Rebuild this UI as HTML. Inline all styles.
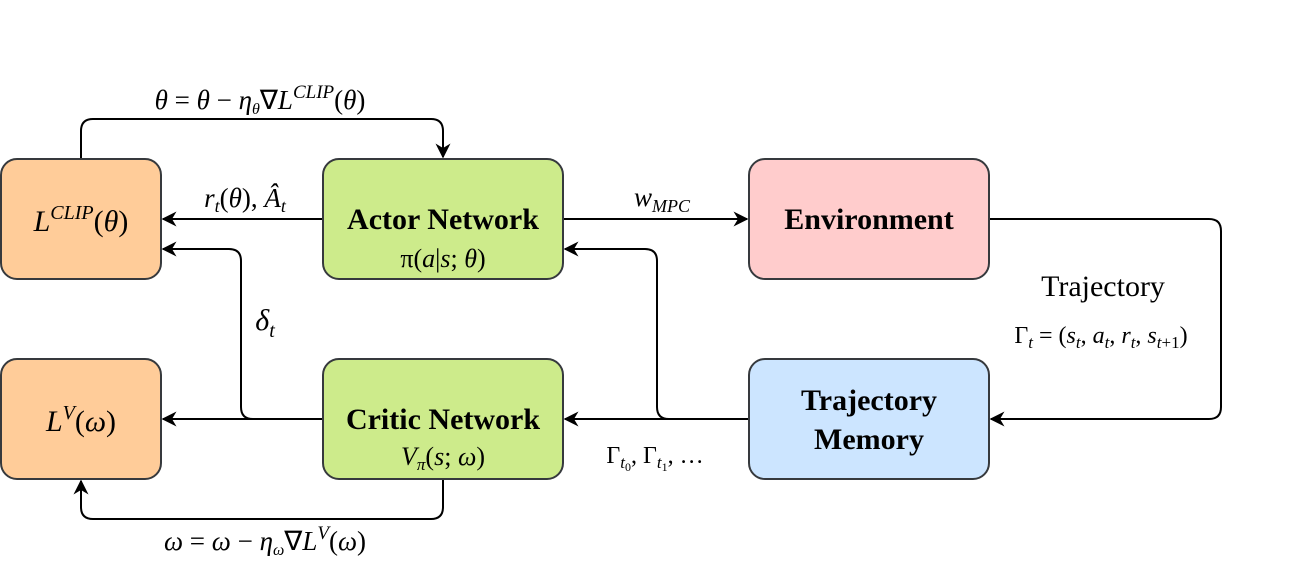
<!DOCTYPE html>
<html><head><style>
body{margin:0;background:#fff;}
svg{display:block;}
text{font-family:"Liberation Serif",serif;fill:#000;}
.m{font-style:italic;}
</style></head><body>
<svg width="1304" height="582" viewBox="0 0 1304 582" xmlns="http://www.w3.org/2000/svg">
<defs>
<marker id="b" viewBox="0 0 10 10" refX="9" refY="5" markerWidth="15" markerHeight="15" orient="auto" markerUnits="userSpaceOnUse">
<path d="M0,0 L10,5 L0,10 L3,5 z" fill="#000"/>
</marker>
</defs>
<g stroke="#000" stroke-width="2" fill="none">
<path d="M81,159 V131 Q81,119 93,119 H431 Q443,119 443,131 V157" marker-end="url(#b)"/>
<path d="M323,219 H163" marker-end="url(#b)"/>
<path d="M257,419 H253 Q241,419 241,407 V261 Q241,249 229,249 H163" marker-end="url(#b)"/>
<path d="M323,419 H163" marker-end="url(#b)"/>
<path d="M749,419 H565" marker-end="url(#b)"/>
<path d="M749,419 H669 Q657,419 657,407 V261 Q657,249 645,249 H565" marker-end="url(#b)"/>
<path d="M563,219 H747" marker-end="url(#b)"/>
<path d="M989,219 H1209 Q1221,219 1221,231 V407 Q1221,419 1209,419 H991" marker-end="url(#b)"/>
<path d="M443,479 V507 Q443,519 431,519 H93 Q81,519 81,507 V481" marker-end="url(#b)"/>
</g>
<g stroke="#36393d" stroke-width="2">
<rect x="1" y="159" width="160" height="120" rx="16" fill="#ffcc99"/>
<rect x="323" y="159" width="240" height="120" rx="16" fill="#cdeb8b"/>
<rect x="749" y="159" width="240" height="120" rx="16" fill="#ffcccc"/>
<rect x="1" y="359" width="160" height="120" rx="16" fill="#ffcc99"/>
<rect x="323" y="359" width="240" height="120" rx="16" fill="#cdeb8b"/>
<rect x="749" y="359" width="240" height="120" rx="16" fill="#cce5ff"/>
</g>
<text x="81" y="231" font-size="30" text-anchor="middle"><tspan class="m">L</tspan><tspan class="m" font-size="20" dy="-12">CLIP</tspan><tspan dy="12">(</tspan><tspan class="m">θ</tspan>)</text>
<text x="81" y="431" font-size="30" text-anchor="middle"><tspan class="m">L</tspan><tspan class="m" font-size="20" dy="-12">V</tspan><tspan dy="12">(</tspan><tspan class="m">ω</tspan>)</text>
<text x="443" y="229" font-size="30" font-weight="bold" text-anchor="middle">Actor Network</text>
<text x="443" y="267" font-size="26" text-anchor="middle">π(<tspan class="m">a</tspan>|<tspan class="m">s</tspan>; <tspan class="m">θ</tspan>)</text>
<text x="443" y="429" font-size="30" font-weight="bold" text-anchor="middle">Critic Network</text>
<text x="443" y="465" font-size="26" text-anchor="middle"><tspan class="m">V</tspan><tspan class="m" font-size="17" dy="5">π</tspan><tspan dy="-5">(</tspan><tspan class="m">s</tspan>; <tspan class="m">ω</tspan>)</text>
<text x="869" y="229" font-size="30" font-weight="bold" text-anchor="middle">Environment</text>
<text x="869" y="410" font-size="30" font-weight="bold" text-anchor="middle">Trajectory</text>
<text x="869" y="449" font-size="30" font-weight="bold" text-anchor="middle">Memory</text>
<text x="260" y="109" font-size="27" text-anchor="middle"><tspan class="m">θ</tspan> = <tspan class="m">θ</tspan> − <tspan class="m">η</tspan><tspan class="m" font-size="16" dy="5">θ</tspan><tspan dy="-5">∇</tspan><tspan class="m">L</tspan><tspan class="m" font-size="19" dy="-11">CLIP</tspan><tspan dy="11">(</tspan><tspan class="m">θ</tspan>)</text>
<text x="245" y="207" font-size="27" text-anchor="middle"><tspan class="m">r</tspan><tspan class="m" font-size="18" dy="5">t</tspan><tspan dy="-5">(</tspan><tspan class="m">θ</tspan>), <tspan class="m">Â</tspan><tspan class="m" font-size="18" dy="5">t</tspan></text>
<text x="265" y="330" font-size="30" text-anchor="middle"><tspan class="m">δ</tspan><tspan class="m" font-size="20" dy="7">t</tspan></text>
<text x="662" y="206" font-size="27" text-anchor="middle"><tspan class="m">w</tspan><tspan class="m" font-size="18" dy="6">MPC</tspan></text>
<text x="1103" y="296" font-size="30" text-anchor="middle">Trajectory</text>
<text x="1101" y="343" font-size="24" text-anchor="middle">Γ<tspan class="m" font-size="17" dy="5">t</tspan><tspan dy="-5"> = (</tspan><tspan class="m">s</tspan><tspan class="m" font-size="17" dy="5">t</tspan><tspan dy="-5">, </tspan><tspan class="m">a</tspan><tspan class="m" font-size="17" dy="5">t</tspan><tspan dy="-5">, </tspan><tspan class="m">r</tspan><tspan class="m" font-size="17" dy="5">t</tspan><tspan dy="-5">, </tspan><tspan class="m">s</tspan><tspan class="m" font-size="17" dy="5">t</tspan><tspan font-size="17">+1</tspan><tspan dy="-5">)</tspan></text>
<text x="655" y="463" font-size="24" text-anchor="middle">Γ<tspan class="m" font-size="17" dy="5">t</tspan><tspan font-size="12" dy="3">0</tspan><tspan dy="-8">, Γ</tspan><tspan class="m" font-size="17" dy="5">t</tspan><tspan font-size="12" dy="3">1</tspan><tspan dy="-8">, …</tspan></text>
<text x="265" y="550" font-size="27" text-anchor="middle"><tspan class="m">ω</tspan> = <tspan class="m">ω</tspan> − <tspan class="m">η</tspan><tspan class="m" font-size="16" dy="5">ω</tspan><tspan dy="-5">∇</tspan><tspan class="m">L</tspan><tspan class="m" font-size="19" dy="-11">V</tspan><tspan dy="11">(</tspan><tspan class="m">ω</tspan>)</text>
</svg>
</body></html>
